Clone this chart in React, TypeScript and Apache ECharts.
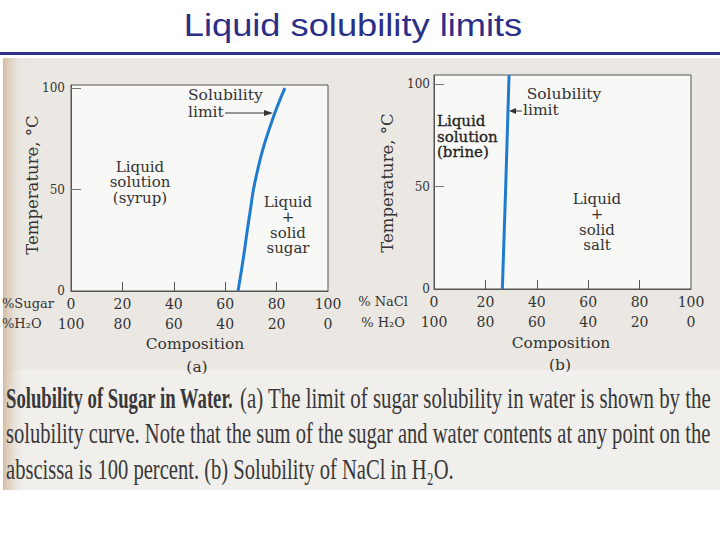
import React, { useEffect, useRef } from "react";
import * as echarts from "echarts";

// ---- data ----
const compTicks = [0, 20, 40, 60, 80, 100];
const innerTicks = [20, 40, 60, 80];
const tempTicks = [0, 50, 100];
const sugarTemp = [0, 10, 20, 30, 40, 50, 60, 70, 80, 90, 100];
const sugarPct = [65.0, 66.3, 67.5, 68.6, 69.8, 71.0, 72.7, 74.7, 77.2, 80.0, 83.2];
const saltTemp = [0, 50, 104.5];
const saltPct = [26.6, 27.9, 29.2];
const captionBold = "Solubility of Sugar in Water.";
const captionLines = [
  "(a) The limit of sugar solubility in water is shown by the",
  "solubility curve. Note that the sum of the sugar and water contents at any point on the",
  "abscissa is 100 percent. (b) Solubility of NaCl in H₂O.",
];

const SERIF = '"DejaVu Serif", serif';
const CAPTION_FONT = '"Liberation Serif", "Times New Roman", serif';
const INK = "#333333";
const CURVE = "#1f7bd0";

function axisPair(gridIndex: number, yMax: number, yMargin: number) {
  const x = {
    type: "value",
    gridIndex,
    min: 0,
    max: 100,
    axisLine: { show: true, lineStyle: { color: "#555", width: 1 } },
    axisTick: {
      show: true,
      inside: true,
      length: 9,
      customValues: innerTicks,
      lineStyle: { color: "#555", width: 1 },
    },
    axisLabel: {
      show: true,
      customValues: compTicks,
      margin: 3,
      formatter: (v: number) => `${v}\n${100 - v}`,
      fontFamily: SERIF,
      fontSize: 14,
      lineHeight: 20,
      color: INK,
    },
    splitLine: { show: false },
  };
  const y = {
    type: "value",
    gridIndex,
    min: 0,
    max: yMax,
    axisLine: { show: true, lineStyle: { color: "#555", width: 1 } },
    axisTick: {
      show: true,
      inside: true,
      length: 10,
      customValues: [50, 100],
      lineStyle: { color: "#777", width: 1 },
    },
    axisLabel: {
      show: true,
      customValues: tempTicks,
      margin: yMargin,
      fontFamily: SERIF,
      fontSize: 12,
      color: INK,
    },
    splitLine: { show: false },
  };
  return { x, y };
}

function txt(text: string, x: number, y: number, opts: any = {}) {
  return {
    type: "text",
    x,
    y,
    z: 20,
    rotation: opts.rotation || 0,
    scaleX: opts.scaleX || 1,
    style: {
      text,
      font: opts.font || `15px ${SERIF}`,
      fill: opts.fill || INK,
      align: opts.align || "center",
      verticalAlign: opts.verticalAlign || "middle",
      lineHeight: opts.lineHeight || 15.5,
      stroke: opts.stroke,
      lineWidth: opts.lineWidth,
    },
  };
}

export default function App() {
  const ref = useRef<HTMLDivElement>(null);

  useEffect(() => {
    document.body.style.margin = "0";
    const chart = echarts.init(ref.current!, null, { renderer: "svg", width: 720, height: 540 });
    const a = axisPair(0, 101.5, 6);
    const b = axisPair(1, 104.5, 4);

    const graphic: any[] = [
      // slide title + rule
      {
        type: "text",
        x: 353,
        y: 25,
        z: 20,
        scaleX: 1.17,
        style: {
          text: "Liquid solubility limits",
          font: '31px "Liberation Sans", Arial, sans-serif',
          fill: "#2b2f88",
          align: "center",
          verticalAlign: "middle",
        },
      },
      { type: "rect", z: 5, shape: { x: 0, y: 52, width: 720, height: 3 }, style: { fill: "#2e3192" } },
      // scanned page background
      { type: "rect", z: -10, shape: { x: 3, y: 58, width: 717, height: 432 }, style: { fill: "#ebe8e4" } },
      { type: "rect", z: -9, shape: { x: 3, y: 370, width: 717, height: 120 }, style: { fill: "#f1efec" } },
      {
        type: "rect",
        z: -8,
        shape: { x: 3, y: 58, width: 22, height: 432 },
        style: {
          fill: new echarts.graphic.LinearGradient(0, 0, 1, 0, [
            { offset: 0, color: "#d3bca2" },
            { offset: 1, color: "rgba(235,232,228,0)" },
          ]),
        },
      },
      // panel (a) labels
      txt("%Sugar\n%H₂O", 2, 313, { align: "left", font: `13px ${SERIF}`, lineHeight: 20 }),
      txt("Composition", 195, 344, { font: `15.5px ${SERIF}` }),
      txt("(a)", 197, 367, { font: `15.5px ${SERIF}` }),
      txt("Temperature, °C", 32, 185, { rotation: Math.PI / 2, font: `16.5px ${SERIF}` }),
      txt("Solubility\nlimit", 188, 103.5, { align: "left", lineHeight: 16.5, font: `15.5px ${SERIF}` }),
      { type: "line", z: 20, shape: { x1: 225, y1: 113, x2: 266, y2: 113 }, style: { stroke: INK, lineWidth: 1 } },
      { type: "polygon", z: 20, shape: { points: [[273, 113], [264, 110], [264, 116]] }, style: { fill: INK } },
      txt("Liquid\nsolution\n(syrup)", 140, 182),
      txt("Liquid\n+\nsolid\nsugar", 288, 225),
      // panel (b) labels
      txt("% NaCl\n% H₂O", 383, 311.5, { font: `13px ${SERIF}`, lineHeight: 21 }),
      txt("Composition", 561, 343, { font: `15.5px ${SERIF}` }),
      txt("(b)", 560, 365, { font: `15.5px ${SERIF}` }),
      txt("Temperature, °C", 387, 183, { rotation: Math.PI / 2, font: `16.5px ${SERIF}` }),
      txt("Solubility", 564, 94, { font: `15.5px ${SERIF}` }),
      txt("limit", 523, 110, { align: "left", font: `15.5px ${SERIF}` }),
      { type: "line", z: 20, shape: { x1: 522, y1: 111, x2: 514, y2: 111 }, style: { stroke: INK, lineWidth: 1 } },
      { type: "polygon", z: 20, shape: { points: [[509, 111], [516, 108], [516, 114]] }, style: { fill: INK } },
      txt("Liquid\nsolution\n(brine)", 437, 136.5, { align: "left", fill: "#222", stroke: "#222", lineWidth: 0.3 }),
      txt("Liquid\n+\nsolid\nsalt", 597, 222),
      // caption
      txt(captionBold, 6, 398, {
        align: "left",
        scaleX: 0.645,
        font: `bold 29px ${CAPTION_FONT}`,
        fill: "#383838",
        lineHeight: 32,
      }),
    ];

    captionLines.forEach((line, i) => {
      graphic.push(
        txt(line, i === 0 ? 240 : 6, 398 + i * 35.5, {
          align: "left",
          scaleX: i === 0 ? 0.72 : 0.71,
          font: `29px ${CAPTION_FONT}`,
          fill: "#383838",
          lineHeight: 32,
        })
      );
    });

    const option: any = {
      animation: false,
      backgroundColor: "#ffffff",
      grid: [
        { left: 71, top: 85, width: 257, height: 206, show: true, backgroundColor: "#f8f8f7", borderColor: "#555", borderWidth: 1 },
        { left: 434, top: 75, width: 257, height: 214, show: true, backgroundColor: "#f8f8f7", borderColor: "#555", borderWidth: 1 },
      ],
      xAxis: [a.x, b.x],
      yAxis: [a.y, b.y],
      series: [
        {
          type: "line",
          xAxisIndex: 0,
          yAxisIndex: 0,
          smooth: true,
          showSymbol: false,
          lineStyle: { color: CURVE, width: 3 },
          data: sugarTemp.map((t, i) => [sugarPct[i], t]),
        },
        {
          type: "line",
          xAxisIndex: 1,
          yAxisIndex: 1,
          smooth: false,
          showSymbol: false,
          lineStyle: { color: CURVE, width: 3 },
          data: saltTemp.map((t, i) => [saltPct[i], t]),
        },
      ],
      graphic,
    };
    chart.setOption(option);
    return () => chart.dispose();
  }, []);

  return <div ref={ref} style={{ width: 720, height: 540 }} />;
}
